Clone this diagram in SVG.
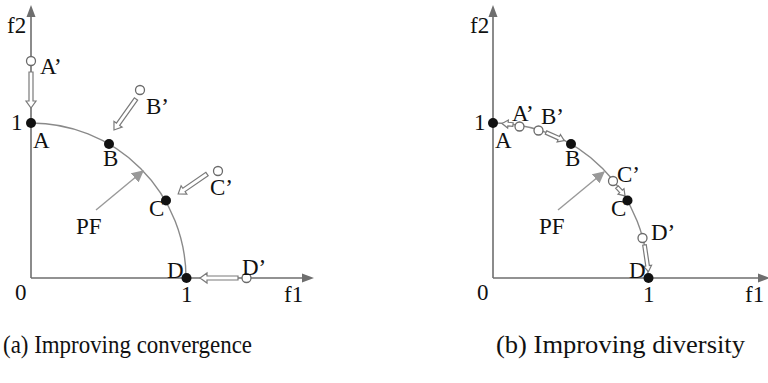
<svg xmlns="http://www.w3.org/2000/svg" width="768" height="383" viewBox="0 0 768 383">
<defs>
<style>
.ax{stroke:#6e6e6e;stroke-width:1.6;fill:none}
.ah{fill:#6e6e6e}
.pf{stroke:#8a8a8a;stroke-width:1.4;fill:none}
.pt{fill:#111}
.op{fill:#fff;stroke:#6a6a6a;stroke-width:1.3}
.ha{fill:#fff;stroke:#7a7a7a;stroke-width:1.2;stroke-linejoin:miter}
.pl{stroke:#999;stroke-width:1.4}
text{font-family:"Liberation Serif","Times New Roman",serif;fill:#111;font-size:23px}
.cap{font-size:25px}
</style>
<marker id="pfh" viewBox="0 0 10 10" refX="9" refY="5" markerWidth="12" markerHeight="12" markerUnits="userSpaceOnUse" orient="auto">
<path d="M0,0 L10,5 L0,10 Z" fill="#999"/>
</marker>
</defs>

<g id="panel-a">
<g id="axes-a">
<line class="ax" x1="31" y1="278" x2="31" y2="16"/>
<polygon class="ah" points="31,5 26.5,17 35.5,17"/>
<line class="ax" x1="31" y1="278" x2="303" y2="278"/>
<polygon class="ah" points="314,278 302,273.5 302,282.5"/>
<text x="7" y="33">f2</text>
<text x="11" y="130">1</text>
<text x="15" y="300">0</text>
<text x="181" y="302">1</text>
<text x="284" y="302">f1</text>
</g>
<g id="curve-a">
<path class="pf" d="M31,123 A155,155 0 0 1 186,278"/>
</g>
<g id="connectors-a">
<polygon class="ha" points="0,-2 29,-2 29,-5 36,0 29,5 29,2 0,2" transform="translate(31,72) rotate(90)"/>
<polygon class="ha" points="0,-2 31,-2 31,-5 38,0 31,5 31,2 0,2" transform="translate(136,99) rotate(125.4)"/>
<polygon class="ha" points="0,-2 28,-2 28,-5 35,0 28,5 28,2 0,2" transform="translate(207,174) rotate(145.4)"/>
<polygon class="ha" points="0,-2 31,-2 31,-5 38,0 31,5 31,2 0,2" transform="translate(238,278) rotate(180)"/>
<line class="pl" x1="96" y1="210" x2="143" y2="171" marker-end="url(#pfh)"/>
</g>
<g id="node-a-A"><circle class="pt" cx="31" cy="123" r="5"/><text x="33" y="148">A</text></g>
<g id="node-a-B"><circle class="pt" cx="109" cy="144" r="5"/><text x="103" y="166">B</text></g>
<g id="node-a-C"><circle class="pt" cx="166" cy="200.5" r="5"/><text x="149" y="216">C</text></g>
<g id="node-a-D"><circle class="pt" cx="186.5" cy="278" r="5"/><text x="167" y="278">D</text></g>
<g id="node-a-A2"><circle class="op" cx="31" cy="61" r="4.5"/><text x="40" y="74">A’</text></g>
<g id="node-a-B2"><circle class="op" cx="140" cy="90" r="4.5"/><text x="146" y="114">B’</text></g>
<g id="node-a-C2"><circle class="op" cx="218" cy="171" r="4.5"/><text x="210" y="195">C’</text></g>
<g id="node-a-D2"><circle class="op" cx="246.5" cy="278" r="4.5"/><text x="242" y="275">D’</text></g>
<g id="node-a-PF"><text x="76" y="234">PF</text></g>
<text class="cap" x="3" y="353" textLength="249" lengthAdjust="spacingAndGlyphs">(a) Improving convergence</text>
</g>

<g id="panel-b">
<g id="axes-b">
<line class="ax" x1="493" y1="278" x2="493" y2="16"/>
<polygon class="ah" points="493,5 488.5,17 497.5,17"/>
<line class="ax" x1="493" y1="278" x2="758" y2="278"/>
<polygon class="ah" points="770,278 758,273.5 758,282.5"/>
<text x="470" y="33">f2</text>
<text x="474" y="130">1</text>
<text x="477" y="300">0</text>
<text x="643" y="302">1</text>
<text x="745" y="302">f1</text>
</g>
<g id="curve-b">
<path class="pf" d="M493,123 A155,155 0 0 1 648,278"/>
</g>
<g id="connectors-b">
<polygon class="ha" points="0,-1.8 5,-1.8 5,-4 11,0 5,4 5,1.8 0,1.8" transform="translate(513,124.5) rotate(185)"/>
<polygon class="ha" points="0,-1.8 14,-1.8 14,-4 20,0 14,4 14,1.8 0,1.8" transform="translate(546,132.5) rotate(24)"/>
<polygon class="ha" points="0,-1.8 6,-1.8 6,-4 12,0 6,4 6,1.8 0,1.8" transform="translate(617,187) rotate(48)"/>
<polygon class="ha" points="0,-1.8 21,-1.8 21,-4 27,0 21,4 21,1.8 0,1.8" transform="translate(644.5,245) rotate(81.6)"/>
<line class="pl" x1="558" y1="210" x2="604" y2="172" marker-end="url(#pfh)"/>
</g>
<g id="node-b-A"><circle class="pt" cx="493" cy="123" r="5"/><text x="495" y="148">A</text></g>
<g id="node-b-B"><circle class="pt" cx="571" cy="144" r="5"/><text x="565" y="166">B</text></g>
<g id="node-b-C"><circle class="pt" cx="627.5" cy="200.5" r="5"/><text x="611" y="216">C</text></g>
<g id="node-b-D"><circle class="pt" cx="648.5" cy="278" r="5"/><text x="629" y="278">D</text></g>
<g id="node-b-A2"><circle class="op" cx="519.5" cy="126.5" r="4.5"/><text x="512" y="121">A’</text></g>
<g id="node-b-B2"><circle class="op" cx="538.5" cy="130.5" r="4.5"/><text x="541" y="124">B’</text></g>
<g id="node-b-C2"><circle class="op" cx="613" cy="181" r="4.5"/><text x="617" y="182">C’</text></g>
<g id="node-b-D2"><circle class="op" cx="642.5" cy="238" r="4.5"/><text x="651" y="240">D’</text></g>
<g id="node-b-PF"><text x="539" y="234">PF</text></g>
<text class="cap" x="496" y="353" textLength="249" lengthAdjust="spacingAndGlyphs">(b) Improving diversity</text>
</g>
</svg>
